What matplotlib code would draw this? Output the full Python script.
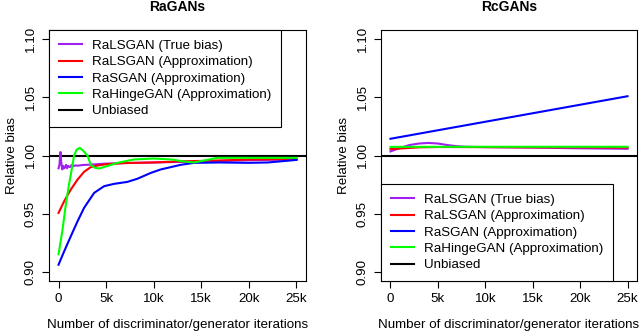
import matplotlib
matplotlib.use("Agg")
import matplotlib.pyplot as plt

plt.rcParams["font.family"] = ["Liberation Sans", "DejaVu Sans"]
plt.rcParams["font.size"] = 9.6

# ---- RaGANs (left panel) ----
ra_true_x = [0, 100, 200, 300, 400, 500, 600, 700, 800, 900, 1000, 1200, 1400, 1600,
             1800, 2000, 2500, 3000, 3500, 4000, 5000, 7000, 10000, 13000, 16000,
             20000, 25000]
ra_true_y = [0.989, 0.992, 1.003, 0.993, 0.988, 0.991, 0.989, 0.990, 0.992, 0.989,
             0.991, 0.990, 0.992, 0.991, 0.9915, 0.9912, 0.9918, 0.992, 0.9922,
             0.9925, 0.993, 0.9935, 0.994, 0.9945, 0.995, 0.996, 0.9966]

ra_ls_x = [0, 590, 1290, 2000, 2690, 3390, 4100, 5000, 7000, 10000, 13000, 16000,
           20000, 25000]
ra_ls_y = [0.9506, 0.9606, 0.9707, 0.9793, 0.986, 0.990, 0.9914, 0.9925, 0.9935,
           0.994, 0.995, 0.9955, 0.9965, 0.997]

ra_s_x = [0, 590, 1290, 2000, 2690, 3740, 4790, 5840, 7240, 8290, 9690, 10740,
          12850, 14250, 17000, 20000, 22000, 25000]
ra_s_y = [0.906, 0.9175, 0.9305, 0.9434, 0.955, 0.9678, 0.9736, 0.9756, 0.9773,
          0.980, 0.985, 0.988, 0.992, 0.9937, 0.994, 0.9937, 0.994, 0.9962]

ra_hinge_x = [0, 400, 770, 1100, 1300, 1640, 1900, 2240, 2600, 3040, 3390, 3800,
              4270, 5140, 6200, 7940, 10000, 12000, 13000, 14200, 15500, 16700,
              20000, 25000]
ra_hinge_y = [0.915, 0.935, 0.958, 0.975, 0.984, 1.000, 1.005, 1.0066, 1.004,
              1.000, 0.992, 0.9895, 0.9888, 0.991, 0.9937, 0.9966, 0.9974, 0.9965,
              0.995, 0.994, 0.996, 0.998, 0.998, 0.998]

# ---- RcGANs (right panel) ----
rc_true_x = [0, 1000, 2000, 3000, 4000, 5000, 6000, 7000, 8000, 10000, 15000,
             20000, 25000]
rc_true_y = [1.0035, 1.0065, 1.009, 1.0103, 1.0108, 1.0103, 1.009, 1.008, 1.0075,
             1.0072, 1.0068, 1.0062, 1.0058]

rc_ls_x = [0, 1000, 2000, 3000, 5000, 10000, 15000, 20000, 25000]
rc_ls_y = [1.0055, 1.006, 1.0065, 1.007, 1.0073, 1.0072, 1.007, 1.007, 1.0068]

rc_s_x = [0, 25000]
rc_s_y = [1.0144, 1.051]

rc_hinge_x = [0, 10000, 25000]
rc_hinge_y = [1.0074, 1.0075, 1.0075]

labels = ["RaLSGAN (True bias)", "RaLSGAN (Approximation)", "RaSGAN (Approximation)",
          "RaHingeGAN (Approximation)", "Unbiased"]
colors = ["#A020F0", "#FF0000", "#0000FF", "#00FF00", "black"]

xticks = [0, 5000, 10000, 15000, 20000, 25000]
xticklabels = ["0", "5k", "10k", "15k", "20k", "25k"]
yticks = [0.90, 0.95, 1.00, 1.05, 1.10]
yticklabels = ["0.90", "0.95", "1.00", "1.05", "1.10"]

fig = plt.figure(figsize=(6.4, 3.31), dpi=100)
ax1 = fig.add_axes([49 / 640, 1 - 281 / 331, 257 / 640, 251 / 331])
ax2 = fig.add_axes([381 / 640, 1 - 281 / 331, 256 / 640, 251 / 331])

panels = [
    (ax1, "RaGANs", [(ra_true_x, ra_true_y), (ra_ls_x, ra_ls_y), (ra_s_x, ra_s_y),
                     (ra_hinge_x, ra_hinge_y)], "upper left"),
    (ax2, "RcGANs", [(rc_true_x, rc_true_y), (rc_ls_x, rc_ls_y), (rc_s_x, rc_s_y),
                     (rc_hinge_x, rc_hinge_y)], "lower left"),
]

for ax, title, series, loc in panels:
    ax.axhline(1.0, color="black", lw=1.5, zorder=1)
    handles = []
    for (xs, ys), c, lab in zip(series, colors, labels):
        (h,) = ax.plot(xs, ys, color=c, lw=1.5, label=lab)
        handles.append(h)
    handles.append(plt.Line2D([], [], color="black", lw=1.5, label=labels[-1]))

    ax.set_xlim(-1000, 26000)
    ax.set_ylim(0.892, 1.108)
    ax.set_xticks(xticks, xticklabels)
    ax.set_yticks(yticks, yticklabels, rotation=90, va="center")
    ax.tick_params(length=5, width=0.8, pad=4)
    for s in ax.spines.values():
        s.set_linewidth(0.8)
    ax.set_title(title, fontweight="bold", fontsize=10, pad=14)
    ax.set_xlabel("Number of discriminator/generator iterations", labelpad=9.5)
    ax.set_ylabel("Relative bias", labelpad=5)

    leg = ax.legend(handles=handles, loc=loc, borderaxespad=0, fancybox=False,
                    edgecolor="black", framealpha=1, handlelength=1.75,
                    handletextpad=0.75, labelspacing=0.3, borderpad=0.72)
    leg.get_frame().set_linewidth(0.8)

fig.savefig("out.png", dpi=100)
